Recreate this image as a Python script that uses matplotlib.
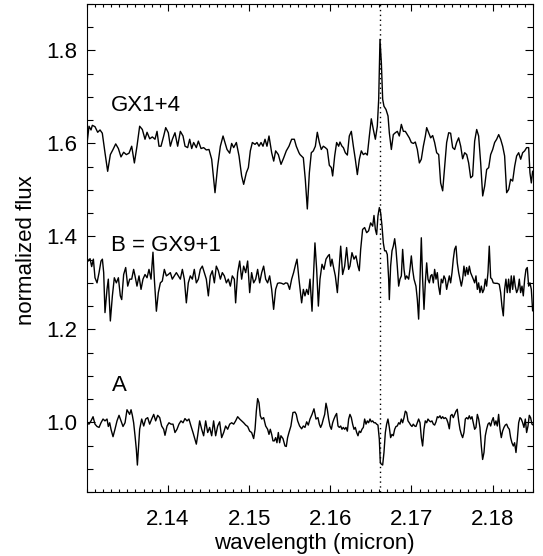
import matplotlib
matplotlib.use('Agg')
import numpy as np
from matplotlib import pyplot as plt
from matplotlib.ticker import FixedLocator, MultipleLocator

plt.rcParams['font.family'] = ['Liberation Sans', 'DejaVu Sans']

# spectra (wavelength in micron, normalized flux)
wl_gx14 = [2.13000, 2.13028, 2.13053, 2.13069, 2.13102, 2.13135, 2.13164, 2.13192, 2.13225, 2.13258,
           2.13291, 2.13324, 2.13357, 2.13390, 2.13422, 2.13455, 2.13488, 2.13521, 2.13554, 2.13587,
           2.13619, 2.13652, 2.13685, 2.13718, 2.13743, 2.13776, 2.13808, 2.13841, 2.13866, 2.13890,
           2.13915, 2.13948, 2.13973, 2.14005, 2.14030, 2.14055, 2.14087, 2.14120, 2.14153, 2.14186,
           2.14211, 2.14243, 2.14268, 2.14293, 2.14317, 2.14350, 2.14375, 2.14408, 2.14440, 2.14473,
           2.14506, 2.14539, 2.14580, 2.14613, 2.14646, 2.14679, 2.14703, 2.14728, 2.14761, 2.14785,
           2.14810, 2.14843, 2.14876, 2.14908, 2.14933, 2.14966, 2.14991, 2.15015, 2.15040, 2.15073,
           2.15097, 2.15122, 2.15147, 2.15171, 2.15196, 2.15220, 2.15245, 2.15278, 2.15303, 2.15327,
           2.15360, 2.15393, 2.15426, 2.15458, 2.15491, 2.15524, 2.15557, 2.15581, 2.15614, 2.15627,
           2.15668, 2.15692, 2.15717, 2.15742, 2.15766, 2.15791, 2.15816, 2.15840, 2.15865, 2.15889,
           2.15914, 2.15939, 2.15963, 2.15988, 2.16013, 2.16029, 2.16054, 2.16078, 2.16103, 2.16119,
           2.16144, 2.16161, 2.16185, 2.16210, 2.16234, 2.16259, 2.16284, 2.16308, 2.16333, 2.16358,
           2.16382, 2.16407, 2.16432, 2.16456, 2.16481, 2.16505, 2.16530, 2.16555, 2.16579, 2.16596,
           2.16612, 2.16629, 2.16645, 2.16661, 2.16686, 2.16711, 2.16727, 2.16752, 2.16776, 2.16801,
           2.16826, 2.16850, 2.16875, 2.16900, 2.16924, 2.16949, 2.16973, 2.16998, 2.17023, 2.17047,
           2.17072, 2.17097, 2.17121, 2.17146, 2.17171, 2.17187, 2.17212, 2.17236, 2.17261, 2.17285,
           2.17310, 2.17335, 2.17359, 2.17384, 2.17409, 2.17433, 2.17458, 2.17482, 2.17507, 2.17532,
           2.17556, 2.17581, 2.17606, 2.17630, 2.17655, 2.17680, 2.17704, 2.17729, 2.17753, 2.17778,
           2.17803, 2.17827, 2.17852, 2.17877, 2.17901, 2.17926, 2.17951, 2.17975, 2.18000, 2.18024,
           2.18049, 2.18074, 2.18098, 2.18123, 2.18147, 2.18172, 2.18197, 2.18221, 2.18246, 2.18271,
           2.18295, 2.18320, 2.18345, 2.18369, 2.18394, 2.18418, 2.18443, 2.18459, 2.18476, 2.18492]
flux_gx14 = [1.594, 1.637, 1.629, 1.639, 1.636, 1.624, 1.629, 1.622, 1.580, 1.540,
             1.576, 1.587, 1.599, 1.589, 1.571, 1.581, 1.576, 1.579, 1.594, 1.558,
             1.594, 1.637, 1.630, 1.609, 1.624, 1.610, 1.614, 1.609, 1.626, 1.594,
             1.594, 1.616, 1.634, 1.623, 1.594, 1.609, 1.623, 1.594, 1.626, 1.616,
             1.594, 1.591, 1.609, 1.589, 1.602, 1.591, 1.605, 1.589, 1.591, 1.586,
             1.587, 1.566, 1.494, 1.551, 1.594, 1.616, 1.602, 1.587, 1.579, 1.600,
             1.591, 1.602, 1.573, 1.530, 1.512, 1.537, 1.548, 1.584, 1.602, 1.598,
             1.602, 1.594, 1.602, 1.594, 1.609, 1.594, 1.616, 1.580, 1.562, 1.584,
             1.576, 1.555, 1.569, 1.584, 1.594, 1.609, 1.609, 1.594, 1.580, 1.576,
             1.569, 1.523, 1.459, 1.537, 1.580, 1.584, 1.594, 1.624, 1.602, 1.587,
             1.594, 1.591, 1.587, 1.553, 1.548, 1.530, 1.573, 1.602, 1.594, 1.603,
             1.594, 1.591, 1.580, 1.575, 1.616, 1.626, 1.594, 1.566, 1.533, 1.566,
             1.584, 1.576, 1.579, 1.575, 1.616, 1.653, 1.630, 1.609, 1.637, 1.695,
             1.824, 1.773, 1.695, 1.680, 1.673, 1.659, 1.623, 1.587, 1.619, 1.623,
             1.626, 1.616, 1.641, 1.626, 1.626, 1.619, 1.612, 1.602, 1.600, 1.603,
             1.587, 1.558, 1.566, 1.594, 1.616, 1.634, 1.623, 1.612, 1.617, 1.602,
             1.580, 1.576, 1.515, 1.498, 1.551, 1.602, 1.623, 1.622, 1.591, 1.587,
             1.602, 1.612, 1.594, 1.567, 1.580, 1.576, 1.558, 1.526, 1.530, 1.605,
             1.630, 1.616, 1.558, 1.487, 1.508, 1.544, 1.548, 1.576, 1.587, 1.602,
             1.609, 1.619, 1.609, 1.594, 1.573, 1.494, 1.501, 1.523, 1.519, 1.551,
             1.573, 1.580, 1.566, 1.580, 1.584, 1.591, 1.591, 1.537, 1.515, 1.540]

wl_b = [2.13000, 2.13020, 2.13041, 2.13061, 2.13082, 2.13102, 2.13127, 2.13152, 2.13176, 2.13193,
        2.13209, 2.13225, 2.13250, 2.13266, 2.13291, 2.13316, 2.13340, 2.13365, 2.13390, 2.13414,
        2.13431, 2.13455, 2.13480, 2.13505, 2.13529, 2.13554, 2.13578, 2.13595, 2.13619, 2.13644,
        2.13669, 2.13693, 2.13718, 2.13743, 2.13767, 2.13792, 2.13816, 2.13833, 2.13858, 2.13882,
        2.13907, 2.13931, 2.13956, 2.13981, 2.14005, 2.14030, 2.14054, 2.14079, 2.14104, 2.14128,
        2.14153, 2.14178, 2.14202, 2.14227, 2.14251, 2.14276, 2.14301, 2.14325, 2.14350, 2.14375,
        2.14399, 2.14424, 2.14449, 2.14473, 2.14498, 2.14522, 2.14547, 2.14572, 2.14596, 2.14621,
        2.14646, 2.14670, 2.14695, 2.14720, 2.14744, 2.14769, 2.14793, 2.14818, 2.14834, 2.14859,
        2.14884, 2.14908, 2.14933, 2.14958, 2.14982, 2.15007, 2.15031, 2.15056, 2.15081, 2.15105,
        2.15130, 2.15155, 2.15179, 2.15204, 2.15228, 2.15253, 2.15278, 2.15302, 2.15327, 2.15351,
        2.15376, 2.15401, 2.15425, 2.15450, 2.15474, 2.15499, 2.15524, 2.15548, 2.15573, 2.15590,
        2.15614, 2.15647, 2.15668, 2.15688, 2.15709, 2.15729, 2.15750, 2.15775, 2.15791, 2.15811,
        2.15832, 2.15853, 2.15873, 2.15898, 2.15922, 2.15947, 2.15972, 2.15988, 2.16004, 2.16021,
        2.16037, 2.16062, 2.16087, 2.16111, 2.16128, 2.16152, 2.16177, 2.16201, 2.16226, 2.16242,
        2.16267, 2.16292, 2.16316, 2.16341, 2.16357, 2.16374, 2.16398, 2.16423, 2.16448, 2.16472,
        2.16497, 2.16522, 2.16538, 2.16555, 2.16571, 2.16587, 2.16604, 2.16620, 2.16637, 2.16653,
        2.16669, 2.16686, 2.16702, 2.16719, 2.16727, 2.16743, 2.16760, 2.16776, 2.16793, 2.16809,
        2.16825, 2.16842, 2.16858, 2.16875, 2.16891, 2.16908, 2.16924, 2.16940, 2.16965, 2.16981,
        2.16998, 2.17014, 2.17031, 2.17055, 2.17072, 2.17088, 2.17105, 2.17121, 2.17137, 2.17154,
        2.17170, 2.17187, 2.17203, 2.17220, 2.17236, 2.17252, 2.17269, 2.17285, 2.17302, 2.17318,
        2.17334, 2.17351, 2.17367, 2.17384, 2.17400, 2.17417, 2.17433, 2.17449, 2.17466, 2.17482,
        2.17499, 2.17515, 2.17531, 2.17548, 2.17564, 2.17581, 2.17597, 2.17614, 2.17630, 2.17646,
        2.17663, 2.17679, 2.17696, 2.17712, 2.17728, 2.17745, 2.17761, 2.17778, 2.17794, 2.17811,
        2.17827, 2.17843, 2.17860, 2.17876, 2.17893, 2.17909, 2.17925, 2.17942, 2.17958, 2.17975,
        2.17991, 2.18007, 2.18032, 2.18057, 2.18081, 2.18098, 2.18114, 2.18131, 2.18147, 2.18163,
        2.18180, 2.18196, 2.18213, 2.18229, 2.18246, 2.18262, 2.18278, 2.18295, 2.18311, 2.18328,
        2.18344, 2.18361, 2.18377, 2.18394, 2.18410, 2.18426, 2.18443, 2.18459, 2.18476, 2.18492]
flux_b = [1.356, 1.347, 1.352, 1.335, 1.351, 1.311, 1.300, 1.322, 1.347, 1.351,
          1.322, 1.236, 1.286, 1.308, 1.218, 1.272, 1.311, 1.300, 1.311, 1.272,
          1.264, 1.318, 1.333, 1.293, 1.308, 1.308, 1.329, 1.315, 1.293, 1.315,
          1.286, 1.308, 1.318, 1.311, 1.329, 1.308, 1.366, 1.308, 1.239, 1.279,
          1.300, 1.304, 1.329, 1.315, 1.318, 1.322, 1.308, 1.315, 1.322, 1.315,
          1.308, 1.329, 1.308, 1.257, 1.300, 1.315, 1.308, 1.329, 1.300, 1.308,
          1.329, 1.336, 1.322, 1.308, 1.272, 1.315, 1.326, 1.300, 1.336, 1.326,
          1.308, 1.322, 1.315, 1.300, 1.308, 1.293, 1.315, 1.308, 1.257, 1.322,
          1.347, 1.308, 1.336, 1.322, 1.347, 1.279, 1.322, 1.300, 1.308, 1.329,
          1.300, 1.322, 1.336, 1.308, 1.300, 1.315, 1.286, 1.243, 1.286, 1.299,
          1.300, 1.299, 1.297, 1.300, 1.299, 1.286, 1.308, 1.322, 1.340, 1.351,
          1.308, 1.257, 1.286, 1.272, 1.286, 1.275, 1.308, 1.239, 1.308, 1.386,
          1.329, 1.250, 1.308, 1.340, 1.329, 1.351, 1.358, 1.361, 1.336, 1.351,
          1.336, 1.315, 1.279, 1.336, 1.379, 1.318, 1.336, 1.376, 1.329, 1.336,
          1.365, 1.351, 1.358, 1.336, 1.326, 1.372, 1.415, 1.419, 1.408, 1.412,
          1.429, 1.422, 1.445, 1.415, 1.404, 1.444, 1.462, 1.451, 1.422, 1.386,
          1.369, 1.369, 1.361, 1.308, 1.264, 1.336, 1.369, 1.379, 1.395, 1.372,
          1.336, 1.293, 1.308, 1.315, 1.372, 1.329, 1.308, 1.315, 1.308, 1.329,
          1.358, 1.329, 1.308, 1.293, 1.264, 1.222, 1.308, 1.397, 1.308, 1.243,
          1.300, 1.343, 1.308, 1.300, 1.315, 1.318, 1.300, 1.329, 1.308, 1.322,
          1.293, 1.275, 1.308, 1.300, 1.315, 1.308, 1.286, 1.300, 1.315, 1.300,
          1.322, 1.351, 1.372, 1.379, 1.343, 1.322, 1.308, 1.293, 1.308, 1.336,
          1.315, 1.333, 1.318, 1.336, 1.322, 1.315, 1.308, 1.300, 1.315, 1.286,
          1.300, 1.279, 1.293, 1.279, 1.286, 1.308, 1.293, 1.322, 1.379, 1.311,
          1.308, 1.300, 1.299, 1.299, 1.297, 1.279, 1.250, 1.229, 1.286, 1.308,
          1.279, 1.308, 1.279, 1.315, 1.286, 1.315, 1.293, 1.279, 1.286, 1.308,
          1.279, 1.293, 1.272, 1.308, 1.329, 1.333, 1.293, 1.300, 1.286, 1.240]

wl_a = [2.13000, 2.13028, 2.13053, 2.13078, 2.13102, 2.13127, 2.13152, 2.13176, 2.13201, 2.13225,
        2.13250, 2.13266, 2.13283, 2.13299, 2.13324, 2.13348, 2.13373, 2.13398, 2.13422, 2.13447,
        2.13472, 2.13496, 2.13513, 2.13529, 2.13546, 2.13562, 2.13578, 2.13595, 2.13611, 2.13624,
        2.13636, 2.13652, 2.13677, 2.13702, 2.13726, 2.13751, 2.13775, 2.13800, 2.13825, 2.13849,
        2.13874, 2.13899, 2.13923, 2.13948, 2.13964, 2.13989, 2.14013, 2.14038, 2.14063, 2.14087,
        2.14112, 2.14136, 2.14161, 2.14186, 2.14210, 2.14235, 2.14259, 2.14284, 2.14309, 2.14334,
        2.14350, 2.14366, 2.14391, 2.14416, 2.14440, 2.14465, 2.14490, 2.14514, 2.14539, 2.14563,
        2.14588, 2.14613, 2.14637, 2.14662, 2.14687, 2.14711, 2.14736, 2.14761, 2.14785, 2.14810,
        2.14834, 2.14859, 2.14884, 2.14908, 2.14933, 2.14958, 2.14982, 2.15007, 2.15031, 2.15056,
        2.15073, 2.15089, 2.15105, 2.15122, 2.15138, 2.15155, 2.15179, 2.15204, 2.15228, 2.15245,
        2.15261, 2.15278, 2.15294, 2.15310, 2.15327, 2.15343, 2.15360, 2.15376, 2.15392, 2.15417,
        2.15442, 2.15458, 2.15474, 2.15491, 2.15515, 2.15540, 2.15565, 2.15581, 2.15598, 2.15622,
        2.15647, 2.15668, 2.15688, 2.15709, 2.15729, 2.15750, 2.15775, 2.15799, 2.15824, 2.15848,
        2.15865, 2.15881, 2.15898, 2.15914, 2.15931, 2.15947, 2.15963, 2.15980, 2.15996, 2.16013,
        2.16029, 2.16045, 2.16062, 2.16078, 2.16095, 2.16111, 2.16128, 2.16144, 2.16160, 2.16177,
        2.16193, 2.16210, 2.16226, 2.16242, 2.16259, 2.16275, 2.16292, 2.16308, 2.16325, 2.16341,
        2.16357, 2.16374, 2.16390, 2.16407, 2.16423, 2.16440, 2.16456, 2.16472, 2.16489, 2.16505,
        2.16522, 2.16538, 2.16555, 2.16571, 2.16587, 2.16604, 2.16616, 2.16628, 2.16645, 2.16661,
        2.16678, 2.16694, 2.16710, 2.16727, 2.16743, 2.16760, 2.16776, 2.16793, 2.16809, 2.16825,
        2.16842, 2.16858, 2.16875, 2.16891, 2.16908, 2.16924, 2.16940, 2.16957, 2.16973, 2.16990,
        2.17006, 2.17022, 2.17039, 2.17055, 2.17072, 2.17088, 2.17105, 2.17121, 2.17137, 2.17154,
        2.17170, 2.17187, 2.17203, 2.17220, 2.17236, 2.17252, 2.17269, 2.17285, 2.17302, 2.17318,
        2.17334, 2.17351, 2.17367, 2.17384, 2.17400, 2.17417, 2.17433, 2.17449, 2.17466, 2.17482,
        2.17499, 2.17515, 2.17531, 2.17548, 2.17564, 2.17581, 2.17597, 2.17614, 2.17630, 2.17646,
        2.17663, 2.17679, 2.17696, 2.17712, 2.17728, 2.17745, 2.17761, 2.17778, 2.17794, 2.17811,
        2.17827, 2.17843, 2.17860, 2.17876, 2.17893, 2.17909, 2.17925, 2.17942, 2.17958, 2.17975,
        2.17991, 2.18007, 2.18024, 2.18040, 2.18057, 2.18073, 2.18090, 2.18106, 2.18122, 2.18139,
        2.18155, 2.18172, 2.18188, 2.18205, 2.18221, 2.18237, 2.18254, 2.18270, 2.18287, 2.18303,
        2.18320, 2.18336, 2.18352, 2.18369, 2.18385, 2.18402, 2.18418, 2.18435, 2.18451, 2.18467,
        2.18484, 2.18500]
flux_a = [0.999, 0.996, 1.003, 1.012, 0.996, 0.991, 0.989, 0.999, 1.007, 1.003,
          1.007, 0.991, 0.999, 0.985, 0.969, 0.985, 1.003, 1.015, 1.003, 0.991,
          0.999, 1.027, 1.022, 1.017, 1.027, 1.015, 0.999, 0.971, 0.942, 0.908,
          0.942, 0.985, 1.007, 0.992, 1.007, 1.010, 0.996, 1.007, 1.017, 1.003,
          1.015, 1.010, 0.992, 0.985, 0.972, 0.992, 0.999, 0.996, 0.996, 0.978,
          0.985, 0.996, 1.003, 0.999, 1.008, 1.003, 1.007, 0.992, 0.978, 0.963,
          0.953, 0.971, 1.003, 0.985, 0.971, 1.003, 0.978, 0.989, 0.971, 1.003,
          0.971, 0.992, 1.001, 0.967, 0.978, 0.992, 0.985, 0.996, 0.999, 0.996,
          1.003, 1.012, 1.007, 1.003, 0.999, 0.994, 0.991, 0.981, 0.978, 0.965,
          0.985, 1.024, 1.051, 1.042, 1.014, 1.007, 1.010, 0.992, 0.985, 0.974,
          0.985, 0.974, 0.960, 0.960, 0.967, 0.956, 0.978, 0.956, 0.971, 0.965,
          0.949, 0.948, 0.967, 0.978, 0.992, 1.021, 1.022, 1.017, 1.003, 0.992,
          0.986, 0.992, 0.989, 1.001, 0.994, 1.007, 1.017, 1.029, 1.007, 1.010,
          0.996, 0.989, 0.996, 1.007, 1.017, 1.041, 1.028, 1.007, 0.992, 0.985,
          0.999, 1.007, 1.014, 1.019, 0.992, 0.989, 0.992, 0.985, 0.989, 0.985,
          0.989, 0.981, 1.007, 1.017, 1.010, 0.996, 0.985, 0.989, 0.978, 0.971,
          0.981, 0.978, 0.985, 0.989, 1.007, 0.996, 1.003, 0.999, 1.007, 1.001,
          1.003, 0.999, 0.999, 0.996, 0.994, 0.963, 0.913, 0.910, 0.908, 0.935,
          0.978, 0.996, 1.007, 0.989, 0.967, 0.974, 0.971, 0.985, 0.991, 0.992,
          0.999, 0.996, 1.007, 0.999, 1.010, 1.024, 1.021, 1.003, 0.999, 0.994,
          0.991, 0.996, 0.992, 0.991, 0.999, 1.007, 0.999, 0.967, 0.949, 0.985,
          1.003, 0.999, 1.007, 1.003, 1.001, 1.003, 0.996, 0.994, 1.001, 1.012,
          1.010, 1.014, 1.008, 1.012, 1.008, 1.010, 1.007, 0.999, 0.986, 1.014,
          1.017, 1.010, 1.017, 1.024, 1.028, 1.003, 0.985, 0.974, 0.967, 0.978,
          1.007, 1.010, 1.007, 1.014, 1.007, 1.012, 0.999, 0.985, 0.989, 1.017,
          1.007, 0.989, 0.949, 0.920, 0.935, 0.971, 0.985, 0.996, 0.999, 0.992,
          1.003, 1.010, 0.994, 1.003, 0.992, 1.017, 0.985, 0.967, 0.981, 0.989,
          0.994, 0.996, 0.989, 0.985, 0.967, 0.956, 0.949, 0.956, 0.935, 0.963,
          0.999, 1.010, 1.007, 0.999, 0.989, 1.007, 0.978, 0.992, 1.015, 1.010,
          0.996, 0.994]

brg_line = 2.1661  # dotted marker
labels = ['GX1+4', 'B = GX9+1', 'A']
label_pos = [(2.13300, 1.669), (2.13300, 1.368), (2.13308, 1.067)]
x_ticks = [2.14, 2.15, 2.16, 2.17, 2.18]
x_ticklabels = ['2.14', '2.15', '2.16', '2.17', '2.18']
y_ticks = [1.0, 1.2, 1.4, 1.6, 1.8]
y_ticklabels = ['1.0', '1.2', '1.4', '1.6', '1.8']

fig = plt.figure(figsize=(5.43, 5.56), dpi=100)
ax = fig.add_axes([0.1597, 0.1151, 0.8224, 0.8777])

for wl, fl in [(wl_gx14, flux_gx14), (wl_b, flux_b), (wl_a, flux_a)]:
    ax.plot(wl, fl, color='black', lw=1.0)

ax.axvline(brg_line, color='black', lw=1.0, linestyle=(0, (1, 2.5)))

for txt, (x, y) in zip(labels, label_pos):
    ax.text(x, y, txt, fontsize=16, ha='left', va='baseline')

ax.set_xlim(2.13, 2.185)
ax.set_ylim(0.85, 1.9)
ax.xaxis.set_major_locator(FixedLocator(x_ticks))
ax.set_xticklabels(x_ticklabels)
ax.xaxis.set_minor_locator(MultipleLocator(0.001))
ax.yaxis.set_major_locator(FixedLocator(y_ticks))
ax.set_yticklabels(y_ticklabels)
ax.yaxis.set_minor_locator(MultipleLocator(0.05))

ax.tick_params(which='both', direction='in', top=True, right=True, width=0.8, labelsize=16)
ax.tick_params(axis='x', which='major', length=5, pad=12)
ax.tick_params(axis='x', which='minor', length=2.2)
ax.tick_params(axis='y', which='major', length=5.5, pad=7)
ax.tick_params(axis='y', which='minor', length=4)
for s in ax.spines.values():
    s.set_linewidth(0.8)

fig.text(314 / 543, 1 - 543 / 556, 'wavelength (micron)', fontsize=16, ha='center', va='center')
fig.text(26.5 / 543, 1 - 250 / 556, 'normalized flux', fontsize=16, ha='center', va='center', rotation=90)

fig.savefig('out.png', dpi=100)
